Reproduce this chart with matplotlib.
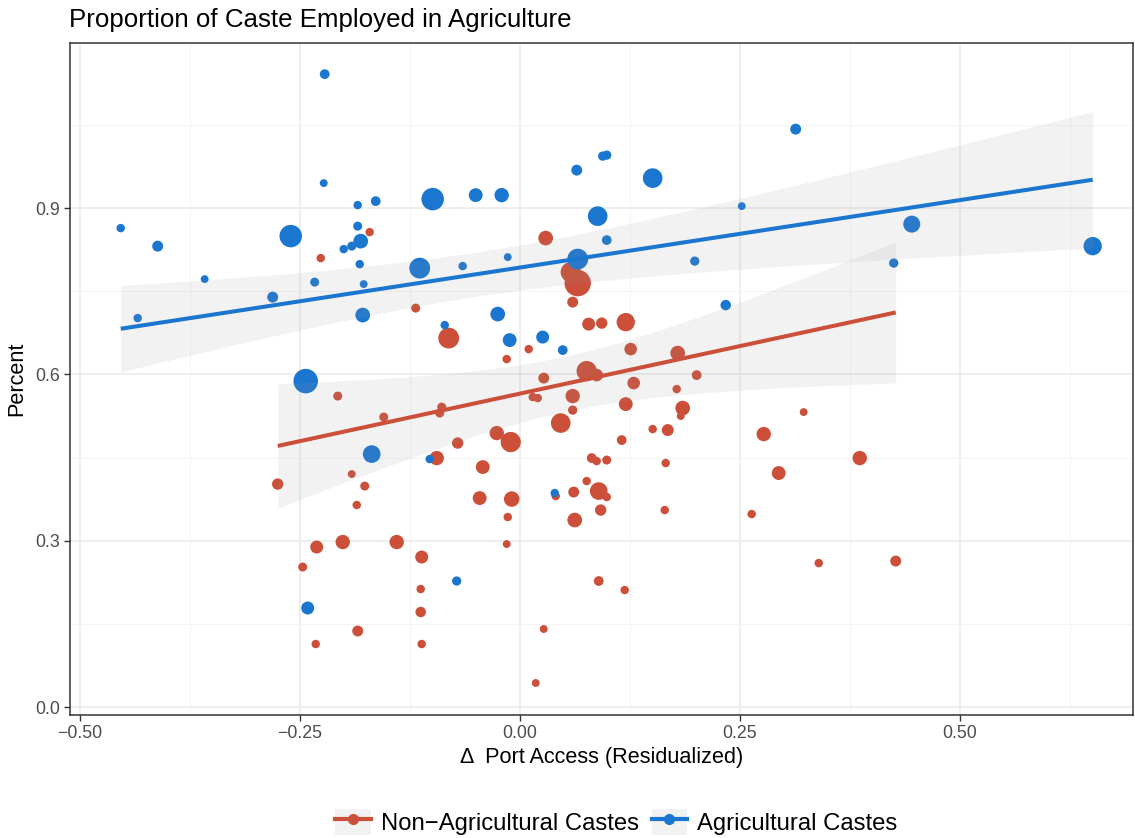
import numpy as np
import matplotlib.pyplot as plt
from matplotlib.lines import Line2D
from matplotlib.patches import Rectangle
from matplotlib.legend_handler import HandlerLine2D

plt.rcParams['font.family'] = ['Liberation Sans', 'DejaVu Sans']

# --- data (x = change in port access, y = share in agriculture, pop = point size) ---
agri_x = [-0.2216, -0.4534, -0.4114, -0.3580, -0.4341, -0.2807, -0.2602, -0.2227, -0.2330, -0.1841,
          -0.1636, -0.1841, -0.2000, -0.1909, -0.1807, -0.1818, -0.1773, -0.1784, -0.2432, -0.0989,
          -0.1136, -0.0648, -0.0500, -0.0205, -0.0136, -0.0852, -0.0250, -0.0114, 0.0261, 0.0489,
          0.0886, 0.0659, 0.0648, 0.0943, 0.0989, 0.0989, 0.1511, 0.1989, 0.2523, 0.2341,
          0.3136, 0.4250, 0.4455, 0.6511, -0.1682, -0.1023, -0.2409, -0.0716, 0.0398]
agri_y = [1.1418, 0.8640, 0.8315, 0.7720, 0.7017, 0.7395, 0.8496, 0.9452, 0.7666, 0.9055,
          0.9127, 0.8676, 0.8261, 0.8315, 0.8405, 0.7990, 0.7630, 0.7071, 0.5880, 0.9163,
          0.7918, 0.7955, 0.9235, 0.9235, 0.8117, 0.6890, 0.7089, 0.6620, 0.6674, 0.6439,
          0.8856, 0.8081, 0.9686, 0.9939, 0.9957, 0.8424, 0.9542, 0.8045, 0.9037, 0.7251,
          1.0426, 0.8009, 0.8712, 0.8315, 0.4563, 0.4473, 0.1786, 0.2273, 0.3860]
agri_pop = [1.5, 1, 2, 0.8, 1, 2, 10, 0.8, 1.2, 1,
            1.5, 1.2, 1, 1.2, 4, 1, 0.8, 4, 12, 10,
            8.5, 1, 3.5, 3.8, 0.8, 1, 4, 3.5, 3, 1.5,
            7.5, 8.5, 2, 1.3, 1.3, 1.5, 7.5, 1.3, 0.8, 1.8,
            2, 1.3, 5.5, 6.5, 6, 1, 3, 1.3, 1]

nonagri_x = [-0.1705, -0.2261, -0.1182, -0.0807, 0.0295, 0.0580, 0.0659, 0.0602, 0.0784, 0.0932,
             0.1205, 0.1261, 0.1795, 0.0102, -0.0148, 0.0761, 0.0875, 0.0273, 0.1295, 0.2011,
             0.1784, 0.0148, 0.0205, 0.0602, 0.1205, 0.1852, 0.1830, 0.0602, 0.0466, 0.1511,
             0.1682, 0.2773, 0.3227, -0.0261, -0.0102, 0.1159, -0.0420, 0.0818, 0.0875, 0.0989,
             0.1659, 0.3864, 0.2943, -0.0455, -0.0091, 0.0761, 0.0614, 0.0898, 0.0989, 0.0409,
             -0.0136, 0.0920, 0.1648, 0.0625, 0.2636, -0.0148, 0.3398, 0.0898, 0.1193, 0.0273,
             0.0182, 0.4273, -0.2068, -0.1545, -0.0886, -0.0909, -0.0705, -0.0943, -0.2750, -0.1909,
             -0.1761, -0.1852, -0.2307, -0.2011, -0.1398, -0.1114, -0.2466, -0.1125, -0.1125, -0.1841,
             -0.2318, -0.1114]
nonagri_y = [0.8568, 0.8099, 0.7197, 0.6656, 0.8460, 0.7846, 0.7648, 0.7305, 0.6908, 0.6926,
             0.6944, 0.6457, 0.6385, 0.6457, 0.6277, 0.6061, 0.5988, 0.5934, 0.5844, 0.5988,
             0.5736, 0.5592, 0.5574, 0.5610, 0.5465, 0.5393, 0.5249, 0.5357, 0.5123, 0.5014,
             0.4996, 0.4924, 0.5321, 0.4942, 0.4780, 0.4816, 0.4329, 0.4491, 0.4437, 0.4455,
             0.4401, 0.4491, 0.4221, 0.3770, 0.3752, 0.4076, 0.3878, 0.3896, 0.3788, 0.3806,
             0.3427, 0.3553, 0.3553, 0.3373, 0.3481, 0.2940, 0.2597, 0.2273, 0.2110, 0.1407,
             0.0433, 0.2633, 0.5610, 0.5231, 0.5411, 0.5303, 0.4762, 0.4491, 0.4022, 0.4203,
             0.3986, 0.3644, 0.2886, 0.2976, 0.2976, 0.2706, 0.2525, 0.2128, 0.1714, 0.1371,
             0.1136, 0.1136]
nonagri_pop = [1, 1, 1.2, 8.5, 4, 8, 14, 2, 3, 2.2,
               6.5, 2.8, 4, 1, 1, 8, 2.8, 2, 2.8, 1.5,
               1, 1, 1, 3.8, 3.5, 4, 0.8, 1.3, 7.5, 1,
               2.5, 3.8, 0.8, 3.8, 8, 1.5, 3.5, 1.5, 1, 1.2,
               1, 3.8, 3.5, 3.5, 4.5, 1, 2, 6, 1, 1,
               1, 2.2, 1, 4, 1, 0.8, 1, 1.5, 1, 0.8,
               0.8, 2, 1.2, 1.2, 1.2, 1.2, 2.2, 3.8, 2.2, 0.8,
               1.2, 1, 3, 3.8, 3.8, 3, 1.2, 1, 1.8, 2,
               1, 1]

# linear fits: intercept, slope, ci half-width at centre, centre, curvature
fit_agri = dict(a=0.7928, b=0.2434, h0=0.04, x0=-0.05, k=0.0276)
fit_nonagri = dict(a=0.5653, b=0.343, h0=0.05, x0=0.05, k=0.096)

red = '#CC4F3A'
blue = '#1B76D0'


def psize(p):
    return 12 + 25 * np.asarray(p)


fig = plt.figure(figsize=(11.35, 8.38), dpi=100)
ax = fig.add_axes([0.0617, 0.1468, 0.9366, 0.8019])

ax.scatter(nonagri_x, nonagri_y, s=psize(nonagri_pop), color=red, linewidths=0, zorder=3)
ax.scatter(agri_x, agri_y, s=psize(agri_pop), color=blue, linewidths=0, zorder=3)

for xs, f, c in [(agri_x, fit_agri, blue), (nonagri_x, fit_nonagri, red)]:
    xx = np.linspace(min(xs), max(xs), 200)
    yy = f['a'] + f['b'] * xx
    hw = np.sqrt(f['h0'] ** 2 + f['k'] * (xx - f['x0']) ** 2)
    ax.fill_between(xx, yy - hw, yy + hw, color='#999999', alpha=0.12, linewidth=0, zorder=4)
    ax.plot(xx, yy, color=c, lw=2.9, zorder=5, solid_capstyle='butt')

ax.set_xlim(-0.511, 0.697)
ax.set_ylim(-0.0144, 1.198)
ax.set_xticks([-0.5, -0.25, 0, 0.25, 0.5])
ax.set_xticklabels(['\u22120.50', '\u22120.25', '0.00', '0.25', '0.50'])
ax.set_yticks([0, 0.3, 0.6, 0.9])
ax.set_yticklabels(['0.0', '0.3', '0.6', '0.9'])
ax.set_xticks([-0.375, -0.125, 0.125, 0.375, 0.625], minor=True)
ax.set_yticks([0.15, 0.45, 0.75, 1.05], minor=True)
ax.tick_params(which='major', length=4, width=1, color='#333333', labelcolor='#4D4D4D',
               labelsize=12.8, pad=3)
ax.tick_params(which='minor', length=0)
ax.grid(True, which='major', color='#EBEBEB', lw=1.2, zorder=0)
ax.grid(True, which='minor', color='#F4F4F4', lw=0.7, zorder=0)
ax.set_axisbelow(True)
for sp in ax.spines.values():
    sp.set_color('#333333')
    sp.set_linewidth(1.1)

ax.set_xlabel('\u0394  Port Access (Residualized)', fontsize=15.6, labelpad=4)
ax.set_ylabel('Percent', fontsize=15.6, labelpad=6)
fig.text(0.061, 0.976, 'Proportion of Caste Employed in Agriculture', fontsize=18.6,
         ha='left', va='center')


class KeyHandler(HandlerLine2D):
    def create_artists(self, legend, orig_handle, xdescent, ydescent, width, height, fontsize, trans):
        bg = Rectangle((-xdescent, -ydescent), width, height,
                       facecolor='#F2F2F2', edgecolor='none', transform=trans)
        arts = super().create_artists(legend, orig_handle, xdescent, ydescent,
                                      width, height, fontsize, trans)
        return [bg] + list(arts)


handles = [Line2D([], [], color=red, lw=3, marker='o', ms=7),
           Line2D([], [], color=blue, lw=3, marker='o', ms=7)]
fig.legend(handles, ['Non\u2212Agricultural Castes', 'Agricultural Castes'],
           loc='center', bbox_to_anchor=(0.543, 0.019), ncol=2, frameon=False,
           fontsize=17.2, numpoints=1, handlelength=1.48, handleheight=1.34,
           handletextpad=0.42, columnspacing=0.55, borderpad=0.2,
           handler_map={Line2D: KeyHandler(numpoints=1)})

fig.savefig('out.png', dpi=100)
